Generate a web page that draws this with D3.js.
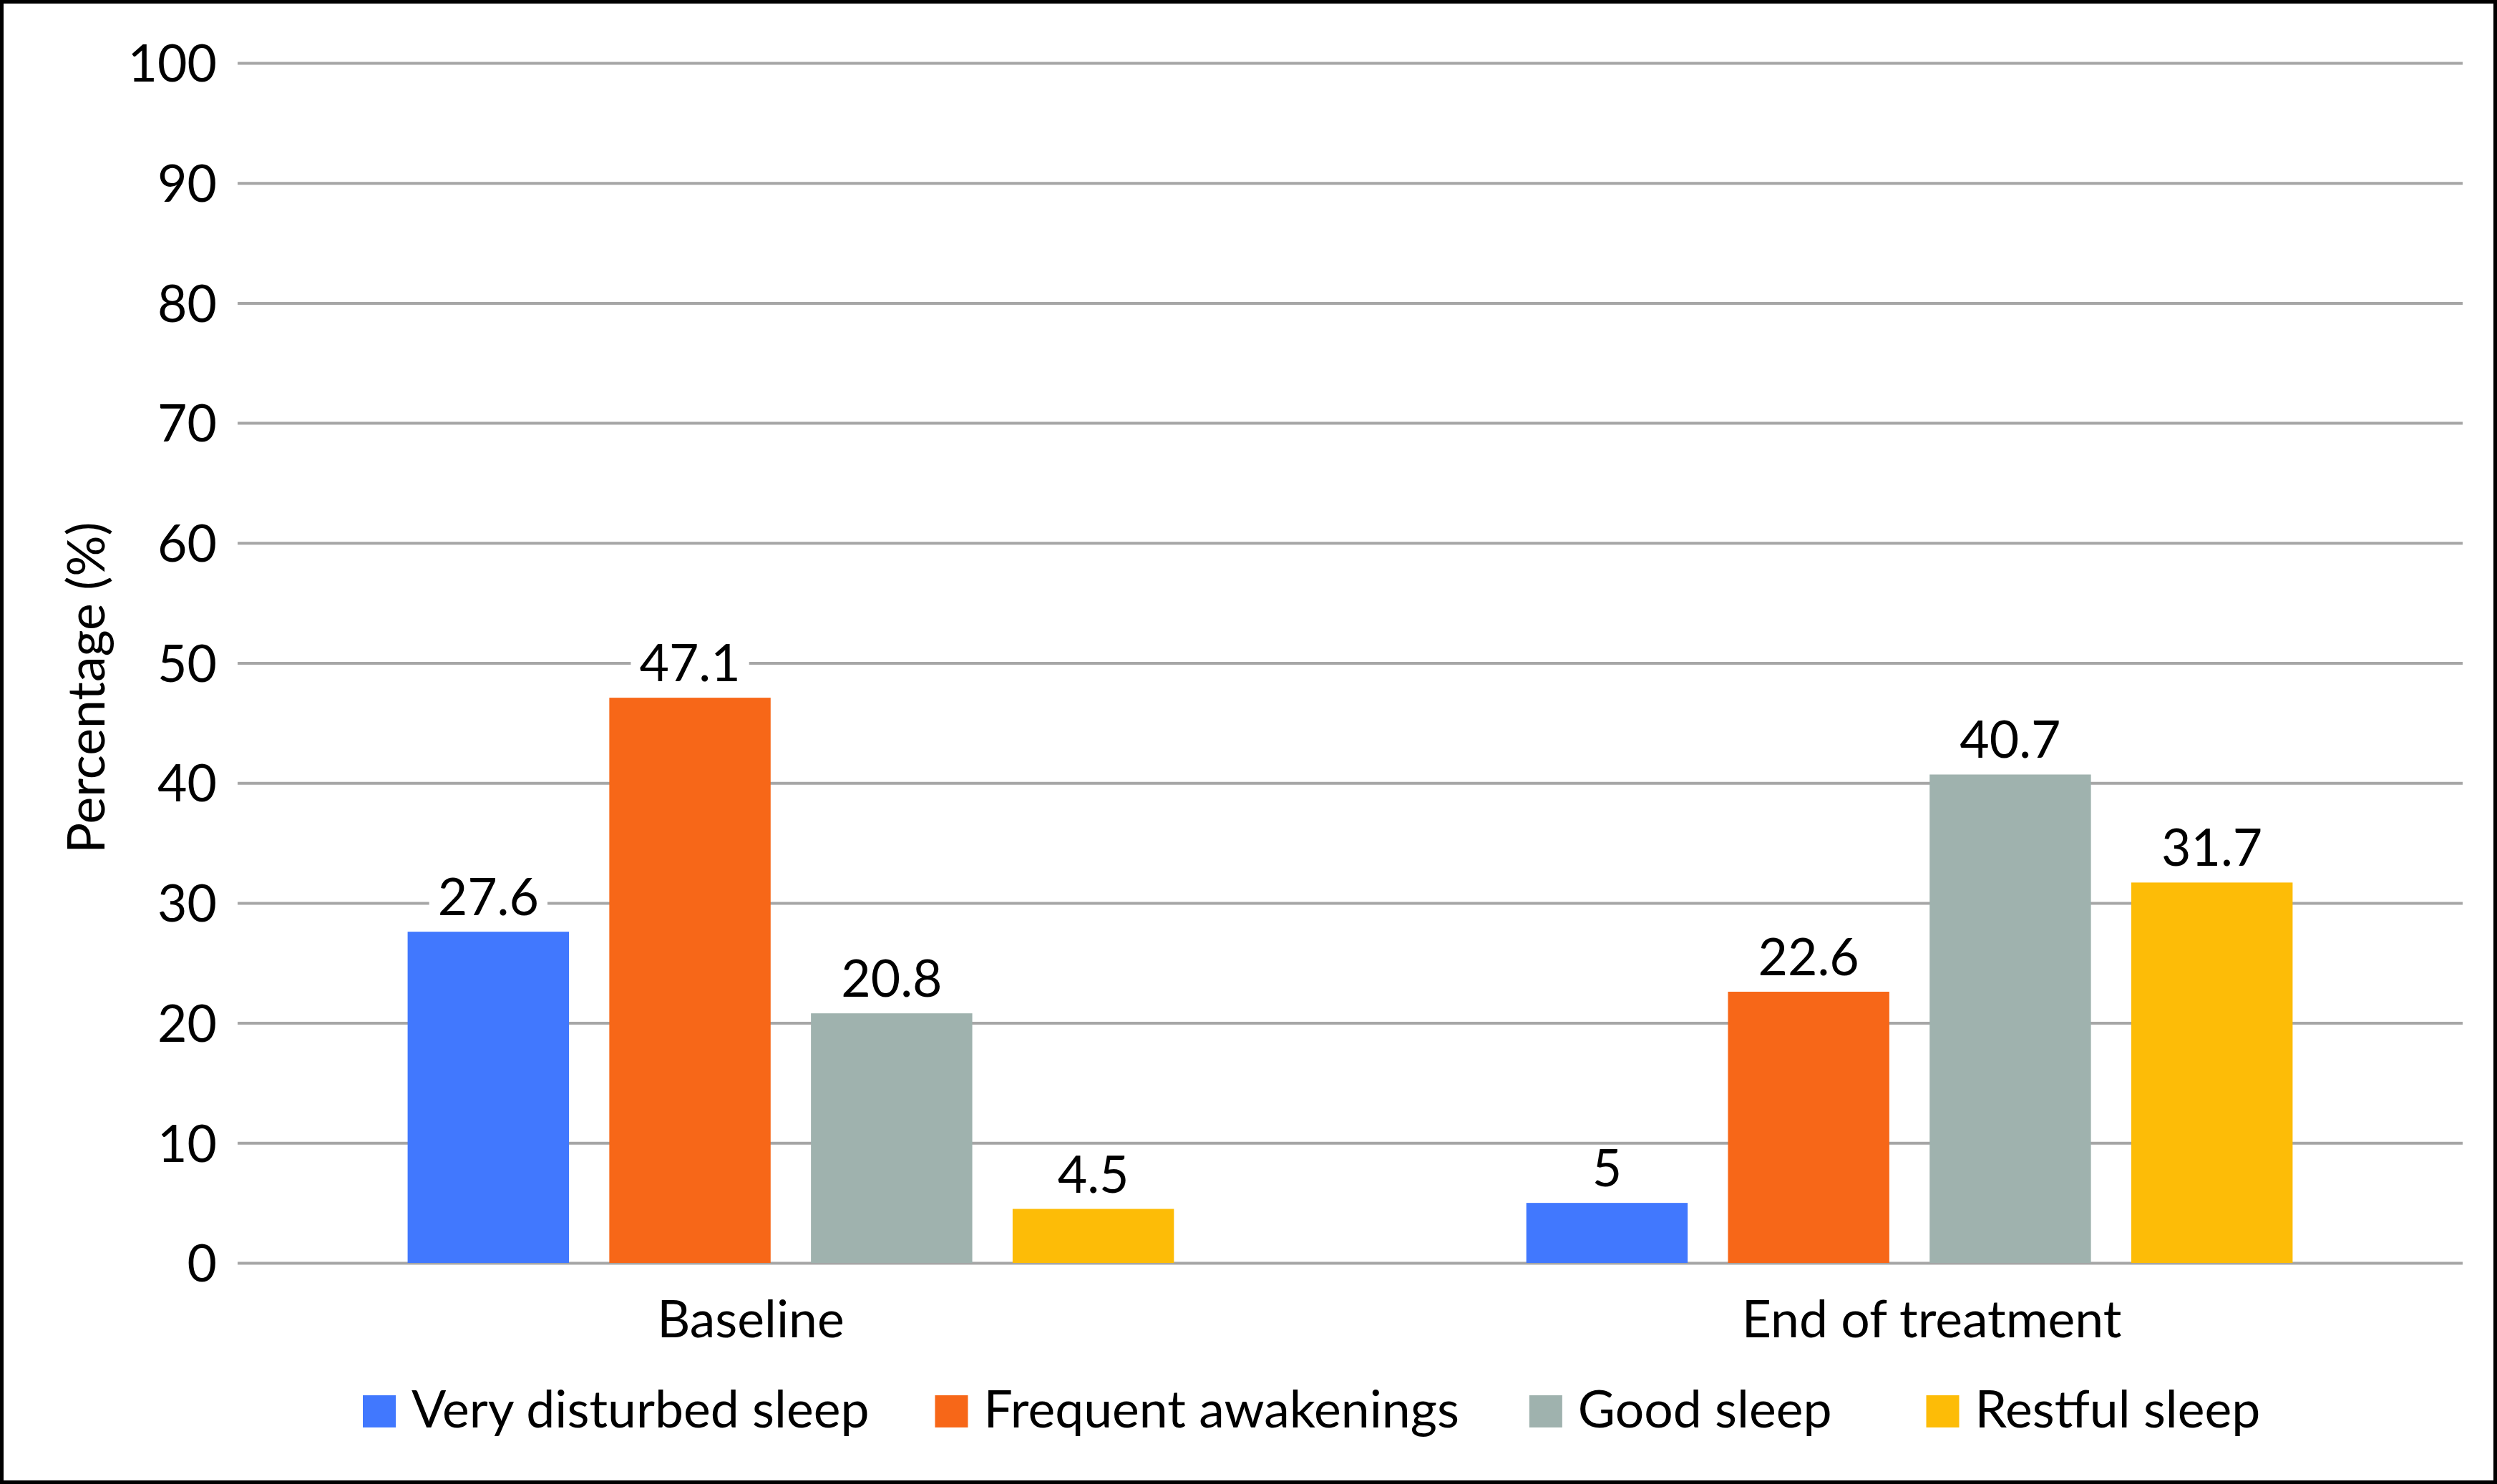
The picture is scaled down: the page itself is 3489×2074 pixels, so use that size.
<!DOCTYPE html>
<html>
<head>
<meta charset="utf-8">
<script src="https://cdn.jsdelivr.net/npm/d3@7"></script>
<style>
  html, body { margin: 0; padding: 0; background: #fff; }
  svg { display: block; }
  text { font-family: Lato, "Open Sans", sans-serif; fill: #000; }
</style>
</head>
<body>
<svg id="chart" width="3489" height="2074"></svg>
<script>
// ---- data ----
const categories = ["Baseline", "End of treatment"];
const seriesNames = ["Very disturbed sleep", "Frequent awakenings", "Good sleep", "Restful sleep"];
const baselineValues = [27.6, 47.1, 20.8, 4.5];
const endOfTreatmentValues = [5, 22.6, 40.7, 31.7];
const yTickValues = [0, 10, 20, 30, 40, 50, 60, 70, 80, 90, 100];
const yAxisTitle = "Percentage (%)";

// ---- styles / layout ----
const seriesColors = ["#4178FE", "#F76718", "#9FB2AE", "#FDBC07"];
const gridColor = "#A6A6A6";
const fontSize = 71.5;
const categoryLabelDx = [-56, 31];
const legendGaps = [92, 98, 132];

const W = 3489, H = 2074;
const plot = { left: 332, right: 3441, top: 88, bottom: 1765 };

const valuesByCategory = [baselineValues, endOfTreatmentValues];
const table = categories.map((c, i) => ({
  category: c,
  values: seriesNames.map((s, j) => ({ series: s, value: valuesByCategory[i][j], idx: j }))
}));

const svg = d3.select("#chart");

// border
svg.append("rect")
  .attr("x", 2.5).attr("y", 2.5)
  .attr("width", W - 5).attr("height", H - 5)
  .attr("fill", "#fff").attr("stroke", "#000").attr("stroke-width", 5);

const y = d3.scaleLinear().domain([0, 100]).range([plot.bottom, plot.top]);
const x0 = d3.scaleBand().domain(categories).range([plot.left, plot.right])
  .paddingInner(0.315).paddingOuter(0.152);
const x1 = d3.scaleBand().domain(seriesNames).range([0, x0.bandwidth()])
  .paddingInner(0.2).paddingOuter(0);

// y axis with gridlines
const yAxis = d3.axisLeft(y)
  .tickValues(yTickValues)
  .tickSize(-(plot.right - plot.left))
  .tickPadding(29)
  .tickFormat(d3.format("d"));

const gAxis = svg.append("g")
  .attr("transform", `translate(${plot.left},0)`)
  .call(yAxis);
gAxis.select(".domain").remove();
gAxis.selectAll(".tick line")
  .attr("stroke", gridColor).attr("stroke-width", 4);
gAxis.selectAll(".tick text")
  .attr("font-size", fontSize)
  .attr("font-family", "Lato, 'Open Sans', sans-serif")
  .attr("fill", "#000")
  .attr("dy", "0.36em");

// y axis title
svg.append("text")
  .attr("transform", `translate(146, 961) rotate(-90)`)
  .attr("text-anchor", "middle")
  .attr("font-size", fontSize)
  .text(yAxisTitle);

// bars
const groups = svg.append("g").selectAll("g.group")
  .data(table).join("g")
  .attr("class", "group")
  .attr("transform", d => `translate(${x0(d.category)},0)`);

groups.selectAll("rect.bar")
  .data(d => d.values).join("rect")
  .attr("class", "bar")
  .attr("x", d => x1(d.series))
  .attr("width", x1.bandwidth())
  .attr("y", d => y(d.value))
  .attr("height", d => y(0) - y(d.value))
  .attr("fill", d => seriesColors[d.idx]);

// value labels with white backgrounds
const labels = groups.selectAll("g.vlabel")
  .data(d => d.values).join("g")
  .attr("class", "vlabel")
  .attr("transform", d => `translate(${x1(d.series) + x1.bandwidth() / 2},${y(d.value) - 23})`);

labels.append("text")
  .attr("text-anchor", "middle")
  .attr("font-size", fontSize)
  .text(d => String(d.value));

labels.each(function () {
  const g = d3.select(this);
  const t = g.select("text").node();
  const bb = t.getBBox();
  g.insert("rect", "text")
    .attr("x", bb.x - 12)
    .attr("y", -57)
    .attr("width", bb.width + 24)
    .attr("height", 67)
    .attr("fill", "#fff");
});

// category labels
svg.append("g").selectAll("text")
  .data(categories).join("text")
  .attr("x", (d, i) => x0(d) + x0.bandwidth() / 2 + categoryLabelDx[i])
  .attr("y", 1869)
  .attr("text-anchor", "middle")
  .attr("font-size", fontSize)
  .text(d => d);

// legend
const legend = svg.append("g").attr("class", "legend");
let lx = 507;
seriesNames.forEach((s, i) => {
  const g = legend.append("g").attr("transform", `translate(${lx},0)`);
  g.append("rect")
    .attr("x", 0).attr("y", 1950)
    .attr("width", 46).attr("height", 45)
    .attr("fill", seriesColors[i]);
  const t = g.append("text")
    .attr("x", 68).attr("y", 1995)
    .attr("font-size", fontSize)
    .text(s);
  const w = t.node().getComputedTextLength();
  lx += 68 + w + (legendGaps[i] || 0);
});
</script>
</body>
</html>
